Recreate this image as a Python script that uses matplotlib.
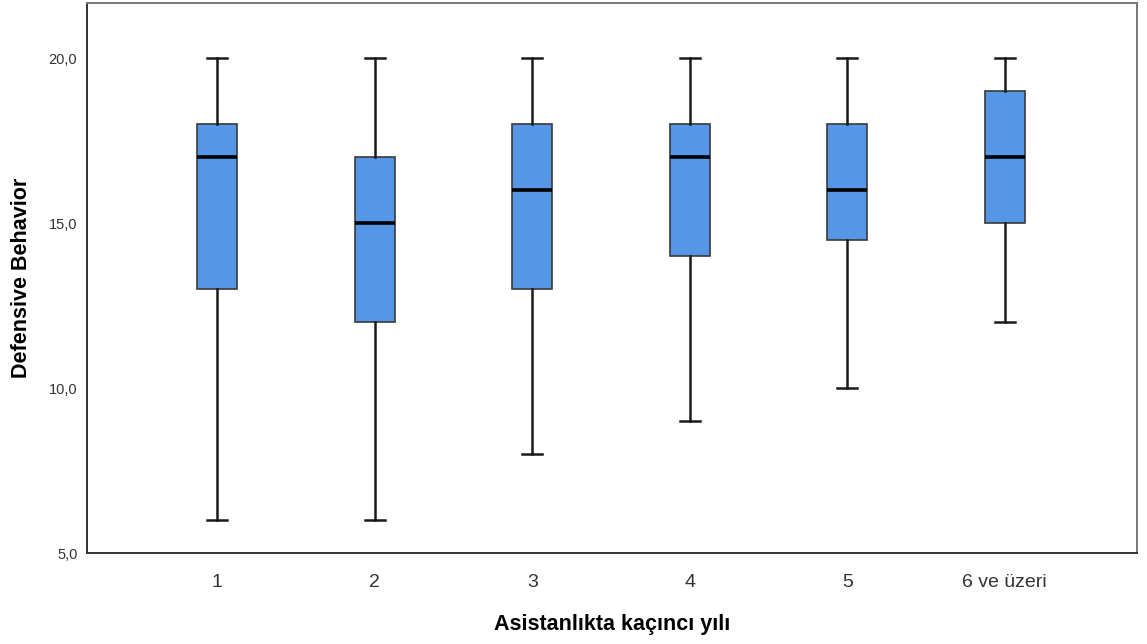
import matplotlib
matplotlib.use("Agg")
import matplotlib.pyplot as plt
from matplotlib.ticker import FuncFormatter

plt.rcParams['font.family'] = ['Liberation Sans', 'DejaVu Sans']

# Asistanlıkta kaçıncı yılı -> Defensive Behavior
groups = ['1', '2', '3', '4', '5', '6 ve üzeri']
whisker_low = [6, 6, 8, 9, 10, 12]
q1 = [13, 12, 13, 14, 14.5, 15]
median = [17, 15, 16, 17, 16, 17]
q3 = [18, 17, 18, 18, 18, 19]
whisker_high = [20, 20, 20, 20, 20, 20]

stats = []
for g, lo, a, m, b, hi in zip(groups, whisker_low, q1, median, q3, whisker_high):
    stats.append({'label': g, 'whislo': lo, 'q1': a, 'med': m, 'q3': b,
                  'whishi': hi, 'fliers': []})

fig = plt.figure(figsize=(11.47, 6.44), dpi=100)
ax = fig.add_axes([0.0759, 0.1413, 0.9154, 0.854])

positions = list(range(1, len(groups) + 1))
ax.bxp(stats, positions=positions, widths=0.254, patch_artist=True,
       showfliers=False,
       boxprops=dict(facecolor='#5596E6', edgecolor='#3a3a3a', linewidth=1.2),
       medianprops=dict(color='black', linewidth=2.6),
       whiskerprops=dict(color='#1a1a1a', linewidth=1.8),
       capprops=dict(color='#1a1a1a', linewidth=1.8),
       capwidths=0.127)

ax.set_xlim(0.174, 6.84)
ax.set_ylim(5.0, 21.67)
ax.set_yticks([5, 10, 15, 20])
ax.yaxis.set_major_formatter(FuncFormatter(lambda v, p: f"{v:.1f}".replace('.', ',')))
ax.set_xticks(positions)
ax.set_xticklabels(groups)
ax.tick_params(axis='both', length=0)
ax.tick_params(axis='y', labelsize=10.5, labelcolor='#333333', pad=7)
ax.tick_params(axis='x', labelsize=14, labelcolor='#333333', pad=15)

for side in ['left', 'bottom']:
    ax.spines[side].set_color('#333333')
    ax.spines[side].set_linewidth(1.4)
for side in ['top', 'right']:
    ax.spines[side].set_color('#777777')
    ax.spines[side].set_linewidth(1.4)

ax.set_xlabel('Asistanlıkta kaçıncı yılı', fontsize=15.5, fontweight='bold', labelpad=17)
ax.set_ylabel('Defensive Behavior', fontsize=15.5, fontweight='bold', labelpad=12)

fig.savefig('out.png', dpi=100)
